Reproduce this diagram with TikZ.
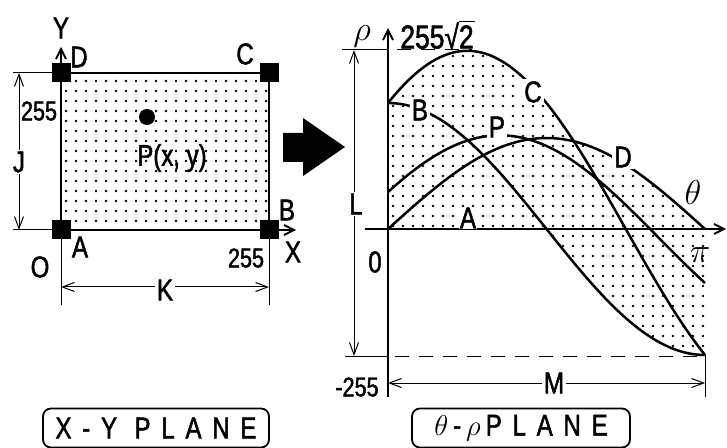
\documentclass[tikz,border=0pt]{standalone}
\usepackage{fontspec}
\setmainfont{Liberation Sans}[FakeStretch=0.8,FakeBold=1.6]
\usetikzlibrary{arrows.meta,positioning}
\newcommand{\rootbar}[1]{{\setbox0\hbox{#1}\rlap{\rule[\dimexpr\ht0+1.5pt\relax]{\dimexpr\wd0+0.5pt\relax}{0.6pt}}\box0}}

\begin{document}
\begin{tikzpicture}[
  x=0.5pt, y=-0.5pt,
  declare function={
    thx(\t)=388+\t*1.76111;
    rhoB(\t)=229-126*cos(\t);
    rhoC(\t)=229-178.2*sin(\t+45);
    rhoD(\t)=229-91*sin(\t);
    rhoP(\t)=229-(45.5*cos(\t)+91.5*sin(\t)-8.5);
  },
  every node/.style={font=\fontsize{15}{17}\selectfont, inner sep=1pt},
  corner/.style={fill=black, minimum size=9.5pt, inner sep=0pt},
  num/.style={font=\fontsize{13.5}{15}\selectfont},
  lbl/.style={fill=white, inner sep=1pt},
  curve/.style={line width=1.25pt},
  axis/.style={line width=0.9pt, -{Straight Barb[length=5pt,width=5pt]}},
  dim/.style={line width=0.5pt, {Straight Barb[length=6pt,width=4.5pt]}-{Straight Barb[length=6pt,width=4.5pt]}},
  plane/.style={draw, line width=0.9pt, rounded corners=4pt, minimum height=19.5pt, inner sep=0pt}
]
\useasboundingbox (0,0) rectangle (727,448);

% X-Y plane
\coordinate (pA) at (61,230);
\coordinate (pB) at (269,230);
\coordinate (pC) at (269,73);
\coordinate (pD) at (61,73);
\foreach \i in {0,...,20}
  \foreach \j in {0,...,14}
    \fill (66+10*\i,81+10*\j) circle (1.4);
\draw[line width=1pt] (pA) rectangle (pC);
\coordinate (ytop) at (61,47);
\coordinate (xend) at (296,230);
\draw[axis] (pD) -- (ytop);
\draw[axis] (pB) -- (xend);
\foreach \p in {pA,pB,pC,pD}
  \node[corner] (sq\p) at (\p) {};
\node (labY) at (61,28) {Y};
\node (labX) at (293,252) {X};
\node (labD) at (79,57) {D};
\node (labC) at (245,54) {C};
\node (labB) at (287,210) {B};
\node (labA) at (80,247) {A};
\node (labO) at (40,267) {O};
\node[num] (n255x) at (246,258) {255};
\node[num] (n255y) at (39,111) {255};
\fill (147,117) circle (8);
\node (labP) at (172,158) {P(x, y)};

% J and K
\coordinate (jt) at (13,73);
\coordinate (jb) at (13,230);
\draw[line width=0.5pt] (jt) -- (pD);
\draw[line width=0.5pt] (jb) -- (pA);
\coordinate (ja) at (19,73);
\coordinate (jz) at (19,230);
\draw[dim] (ja) -- (jz);
\node[lbl] (labJ) at (19,162) {J};
\coordinate (kl) at (61,305);
\coordinate (kr) at (269,305);
\draw[line width=0.5pt] (pA) -- (kl);
\draw[line width=0.5pt] (pB) -- (kr);
\coordinate (ka) at (61,287);
\coordinate (kz) at (269,287);
\draw[dim] (ka) -- (kz);
\node[lbl] (labK) at (165,290) {K};

% block arrow
\fill (283,133) -- (303,133) -- (303,118) -- (345,147) -- (303,176) -- (303,162) -- (283,162) -- cycle;

% theta-rho plane
\coordinate (org) at (388,229);
\coordinate (mr) at (705,355);
\begin{scope}
  \clip plot[domain=0:105.5, samples=40, variable=\t] ({thx(\t)},{rhoC(\t)})
    -- plot[domain=105.5:180, samples=30, variable=\t] ({thx(\t)},{rhoD(\t)})
    -- (mr)
    -- plot[domain=180:90, samples=30, variable=\t] ({thx(\t)},{rhoB(\t)})
    -- (org) -- cycle;
  \foreach \i in {0,...,31}
    \foreach \j in {0,...,30}
      \fill (393+10*\i,56+10*\j) circle (1.4);
\end{scope}
\coordinate (rb) at (388,397);
\coordinate (rt) at (388,28);
\coordinate (tl) at (365,229);
\coordinate (tr) at (726,229);
\draw[axis] (rb) -- (rt);
\draw[axis] (tl) -- (tr);
\draw[curve] plot[domain=0:180, samples=80, variable=\t] ({thx(\t)},{rhoB(\t)});
\draw[curve] plot[domain=0:180, samples=80, variable=\t] ({thx(\t)},{rhoC(\t)});
\draw[curve] plot[domain=0:180, samples=80, variable=\t] ({thx(\t)},{rhoD(\t)});
\draw[curve] plot[domain=0:180, samples=80, variable=\t] ({thx(\t)},{rhoP(\t)});
\node[lbl] (cB) at (420,110) {B};
\node[lbl] (cC) at (533,92) {C};
\node[lbl] (cP) at (497,127) {P};
\node[lbl] (cD) at (623,157) {D};
\node[lbl, inner sep=0.5pt] (cA) at (468,218) {A};
\node[font=\fontsize{17}{19}\selectfont] (cth) at (693,193) {$\theta$};
\node[font=\fontsize{17}{19}\selectfont] (cpi) at (700,255) {$\pi$};
\node[font=\fontsize{17}{19}\selectfont] (crho) at (362,36) {$\rho$};
\node[font=\fontsize{16.5}{18}\selectfont] (ctop) at (437,35) {255√\rootbar{2}};
\node (czero) at (375,262) {0};
\node[num] (cneg) at (357,387) {-255};

% L and M
\coordinate (et1) at (342,50);
\coordinate (et2) at (397,50);
\coordinate (et3) at (472,50);
\draw[line width=0.5pt] (et1) -- (388,50);
\draw[line width=0.5pt, dash pattern=on 7pt off 5pt] (et2) -- (et3);
\coordinate (eb1) at (345,356);
\coordinate (eb2) at (395,356);
\coordinate (eb3) at (700,356);
\draw[line width=0.5pt] (eb1) -- (388,356);
\draw[line width=0.5pt, dash pattern=on 7pt off 5pt] (eb2) -- (eb3);
\coordinate (la) at (354,50);
\coordinate (lz) at (354,356);
\draw[dim] (la) -- (lz);
\node[lbl] (labL) at (356,204) {L};
\coordinate (mb) at (705,397);
\draw[line width=0.5pt] (mr) -- (mb);
\coordinate (ma) at (388,383);
\coordinate (mz) at (705,383);
\draw[dim] (ma) -- (mz);
\node[lbl] (labM) at (554,383) {M};

% captions
\node[plane, minimum width=113pt] (xyplane) at (156,428) {\addfontfeature{LetterSpace=36}X-Y PLANE};
\node[plane, minimum width=109pt] (trplane) at (521,428) {$\theta$\,-\,$\rho$\,{\addfontfeature{LetterSpace=36}PLANE}};
\end{tikzpicture}
\end{document}
